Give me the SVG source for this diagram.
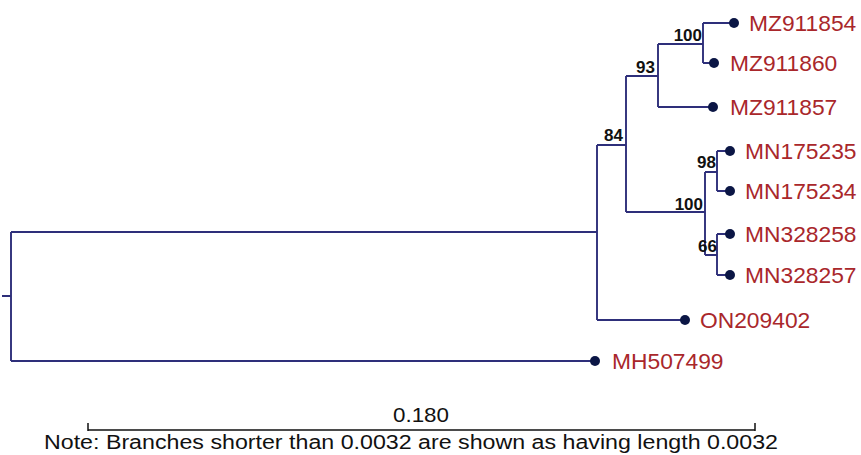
<svg xmlns="http://www.w3.org/2000/svg" width="861" height="455" viewBox="0 0 861 455">
<style>
.br{fill:none;stroke:#2e2f7a;stroke-width:1.9}
.dot{fill:#0b1645}
.lf{font-family:"Liberation Sans",Arial,sans-serif;font-size:22.8px;fill:#a9272b}
.bs{font-family:"Liberation Sans",Arial,sans-serif;font-size:17px;font-weight:bold;fill:#111;text-anchor:end}
.sc{font-family:"Liberation Sans",Arial,sans-serif;fill:#111}
</style>
<rect width="861" height="455" fill="#fff"/>
<g id="connectors">
<path class="br" d="M2,296H11M11,232V361M11,232H597M11,361H595"/>
<path class="br" d="M597,145V320M597,320H685M597,145H626"/>
<path class="br" d="M626,76V212M626,76H658M626,212H705"/>
<path class="br" d="M658,44V107M658,44H703M658,107H713"/>
<path class="br" d="M703,23V63M703,23H734M703,63H714"/>
<path class="br" d="M705,172V255M705,172H717M705,255H717"/>
<path class="br" d="M717,151V191M717,151H730M717,191H730"/>
<path class="br" d="M717,234V275M717,234H730M717,275H730"/>
</g>
<g id="support">
<text class="bs" x="702" y="41">100</text>
<text class="bs" x="655" y="73">93</text>
<text class="bs" x="623" y="141">84</text>
<text class="bs" x="716" y="168">98</text>
<text class="bs" x="703" y="210">100</text>
<text class="bs" x="717" y="252">66</text>
</g>
<g id="MZ911854"><circle class="dot" cx="734" cy="23" r="5"/><text class="lf" x="749" y="31">MZ911854</text></g>
<g id="MZ911860"><circle class="dot" cx="714" cy="63" r="5"/><text class="lf" x="730" y="71">MZ911860</text></g>
<g id="MZ911857"><circle class="dot" cx="713" cy="107" r="5"/><text class="lf" x="730" y="115">MZ911857</text></g>
<g id="MN175235"><circle class="dot" cx="730" cy="151" r="5"/><text class="lf" x="745" y="159">MN175235</text></g>
<g id="MN175234"><circle class="dot" cx="730" cy="191" r="5"/><text class="lf" x="745" y="199">MN175234</text></g>
<g id="MN328258"><circle class="dot" cx="730" cy="234" r="5"/><text class="lf" x="745" y="242">MN328258</text></g>
<g id="MN328257"><circle class="dot" cx="730" cy="275" r="5"/><text class="lf" x="745" y="283">MN328257</text></g>
<g id="ON209402"><circle class="dot" cx="685" cy="320" r="5"/><text class="lf" x="700" y="328">ON209402</text></g>
<g id="MH507499"><circle class="dot" cx="595" cy="361" r="5"/><text class="lf" x="612" y="369">MH507499</text></g>
<g id="scale">
<path fill="none" stroke="#111" stroke-width="1.5" d="M88,430H755M88,423V431M755,423V431"/>
<text class="sc" x="393" y="422" font-size="21" textLength="56" lengthAdjust="spacingAndGlyphs">0.180</text>
<text class="sc" x="44" y="449" font-size="20" textLength="734" lengthAdjust="spacingAndGlyphs">Note: Branches shorter than 0.0032 are shown as having length 0.0032</text>
</g>
</svg>
